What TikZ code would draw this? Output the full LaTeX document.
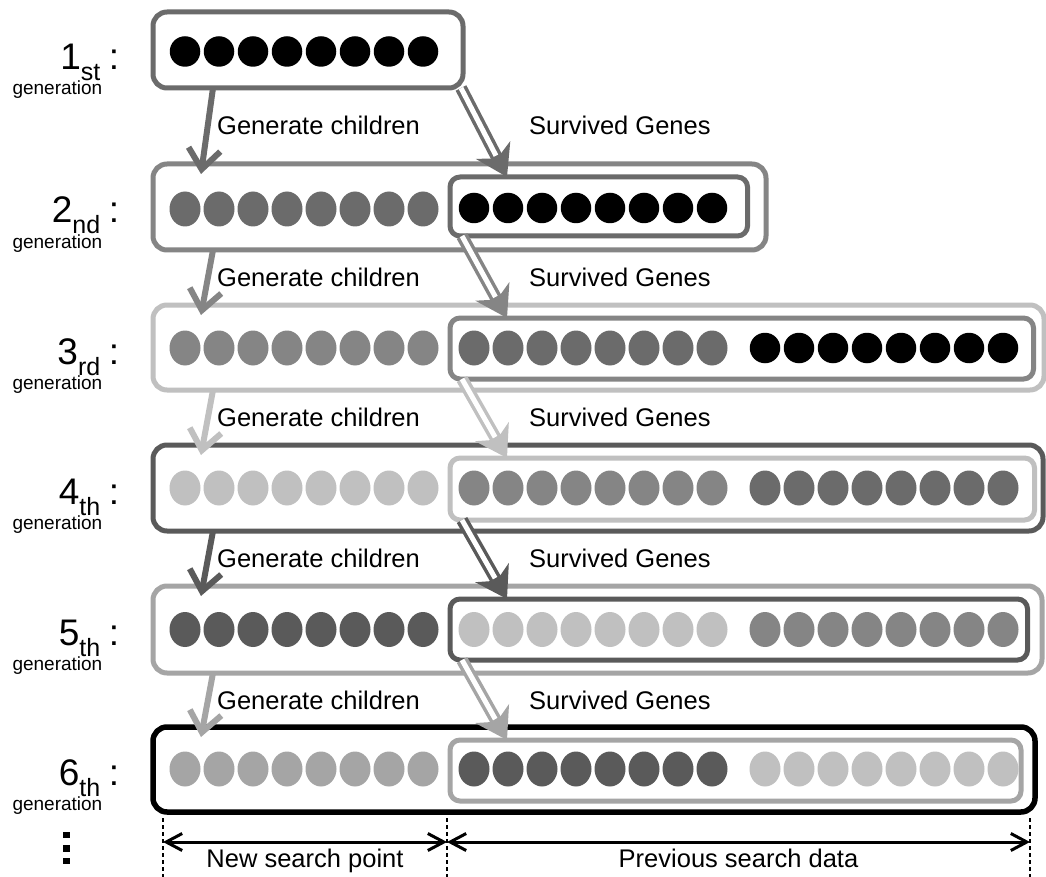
\documentclass[tikz,border=0pt]{standalone}
\usepackage{fontspec}
\setmainfont{Liberation Sans}
\usetikzlibrary{arrows.meta, shapes.geometric, calc}

% one grey per generation; generation k+1 also outlines row k
\definecolor{g1}{HTML}{000000}
\definecolor{g2}{HTML}{6B6B6B}
\definecolor{g3}{HTML}{858585}
\definecolor{g4}{HTML}{C0C0C0}
\definecolor{g5}{HTML}{5A5A5A}
\definecolor{g6}{HTML}{A5A5A5}
\definecolor{g7}{HTML}{000000}

\tikzset{
  outerbox/.style={draw, rounded corners=14pt, line width=5pt, inner sep=0pt, outer sep=0pt, fill=white},
  innerbox/.style={draw, rounded corners=10pt, line width=5pt, inner sep=0pt, outer sep=0pt},
  gene/.style={ellipse, draw=none, inner sep=0pt, outer sep=0pt, minimum width=31pt, minimum height=35pt},
  elite/.style={circle, draw=none, inner sep=0pt, outer sep=0pt, minimum size=30.5pt},
  genarrow/.style={line width=6pt, -{Straight Barb[length=20pt, width=32pt]}},
  survout/.style={line width=12pt, -{Stealth[length=30pt, width=38pt, inset=9pt]}},
  survin/.style={line width=5pt, draw=white, shorten >=24pt},
  steplabel/.style={inner sep=0pt, anchor=base west, font=\fontsize{25.5}{25.5}\selectfont},
  dimlabel/.style={inner sep=0pt, anchor=base, font=\fontsize{25.5}{25.5}\selectfont},
  genword/.style={inner sep=0pt, anchor=base east, font=\fontsize{19}{19}\selectfont},
  gennum/.style={inner sep=0pt, anchor=base east},
  gencolon/.style={inner sep=0pt, anchor=base, font=\fontsize{37}{37}\selectfont},
  dotline/.style={line width=2.5pt, dash pattern=on 3.5pt off 3.5pt},
  dimarrow/.style={line width=3pt, {Straight Barb[length=16pt, width=17pt]}-{Straight Barb[length=16pt, width=17pt]}},
}
\newcommand{\ordnum}[2]{{\fontsize{37}{37}\selectfont #1}{\fontsize{25}{25}\selectfont\raisebox{-11pt}{#2}}}

\begin{document}
\begin{tikzpicture}[x=1pt, y=-1pt]
\fill[white] (0,0) rectangle (1046,877);
\useasboundingbox (0,0) rectangle (1046,877);

% ---------- generation rows ----------
% row 1
\node[outerbox, draw=g2, minimum width=310pt, minimum height=76pt] (o1) at (308,50) {};
\foreach \i in {0,...,7}
  \node[elite, fill=g1] (r1n\i) at ({185+34*\i}, 51.5) {};

% row 2
\node[outerbox, draw=g3, minimum width=613pt, minimum height=86pt] (o2) at (459.5,207) {};
\node[innerbox, draw=g2, minimum width=297.5pt, minimum height=59pt] (i2) at (598.75,206.5) {};
\foreach \i in {0,...,7} {
  \node[gene, fill=g2] (r2n\i) at ({185+34*\i}, 209) {};
  \node[elite, fill=g1] (r2a\i) at ({474+34*\i}, 208) {};
}

% row 3
\node[outerbox, draw=g4, minimum width=891pt, minimum height=85pt] (o3) at (598.5,347.5) {};
\node[innerbox, draw=g3, minimum width=583.5pt, minimum height=61pt] (i3) at (741.75,348.5) {};
\foreach \i in {0,...,7} {
  \node[gene, fill=g3] (r3n\i) at ({185+34*\i}, 348) {};
  \node[gene, fill=g2] (r3a\i) at ({474+34*\i}, 348) {};
  \node[elite, fill=g1] (r3b\i) at ({765+34*\i}, 348) {};
}

% row 4
\node[outerbox, draw=g5, minimum width=890pt, minimum height=86pt] (o4) at (598,488) {};
\node[innerbox, draw=g4, minimum width=584.5pt, minimum height=62pt] (i4) at (742.25,489) {};
\foreach \i in {0,...,7} {
  \node[gene, fill=g4] (r4n\i) at ({185+34*\i}, 488) {};
  \node[gene, fill=g3] (r4a\i) at ({474+34*\i}, 488) {};
  \node[gene, fill=g2] (r4b\i) at ({765+34*\i}, 488) {};
}

% row 5
\node[outerbox, draw=g6, minimum width=889pt, minimum height=87pt] (o5) at (597.5,629.5) {};
\node[innerbox, draw=g5, minimum width=577.5pt, minimum height=61pt] (i5) at (738.75,629.5) {};
\foreach \i in {0,...,7} {
  \node[gene, fill=g5] (r5n\i) at ({185+34*\i}, 629.5) {};
  \node[gene, fill=g4] (r5a\i) at ({474+34*\i}, 629.5) {};
  \node[gene, fill=g3] (r5b\i) at ({765+34*\i}, 629.5) {};
}

% row 6
\node[outerbox, draw=g7, line width=5.5pt, minimum width=882pt, minimum height=85pt] (o6) at (594,769.5) {};
\node[innerbox, draw=g6, minimum width=571pt, minimum height=61pt] (i6) at (735.5,770.5) {};
\foreach \i in {0,...,7} {
  \node[gene, fill=g6] (r6n\i) at ({185+34*\i}, 769) {};
  \node[gene, fill=g5] (r6a\i) at ({474+34*\i}, 769) {};
  \node[gene, fill=g4] (r6b\i) at ({765+34*\i}, 769) {};
}

% ---------- generation labels ----------
\foreach \k/\num/\suf/\b in {1/1/st/70, 2/2/nd/223, 3/3/rd/364, 4/4/th/504, 5/5/th/645, 6/6/th/785} {
  \node[gennum] (num\k) at (100.5,\b) {\ordnum{\num}{\suf}};
  \node[gencolon] (col\k) at (114,\b) {:};
  \node[genword] (gw\k) at (102.5,\b+25) {generation};
}
% continuation marks
\foreach \j/\y in {1/835, 2/848.3, 3/861}
  \fill (63.2,\y-3.3) rectangle (69.8,\y+3.3);

% ---------- transitions ----------
\foreach \k/\kk/\col/\b in {1/2/g2/135, 2/3/g3/286.5, 3/4/g4/426.5, 4/5/g5/567.5, 5/6/g6/709} {
  \draw[genarrow, draw=\col] ($(o\k.south west)+(60pt,0)$) -- ($(o\kk.north west)+(48pt,-10pt)$);
  \node[steplabel] (gc\k) at (217,\b) {Generate children};
  \node[steplabel] (sg\k) at (529,\b) {Survived Genes};
}
% survived genes: hollow double arrows
\coordinate (s1) at ($(o1.south east)+(-2pt,0)$);
\coordinate (t1) at ($(i2.north west)+(57pt,0)$);
\draw[survout, draw=g2] (s1) -- (t1);
\draw[survin] (s1) -- (t1);
\foreach \k/\kk/\col in {2/3/g3, 3/4/g4, 4/5/g5, 5/6/g6} {
  \coordinate (s\k) at ($(i\k.south west)+(12pt,0)$);
  \coordinate (t\k) at ($(i\kk.north west)+(57pt,0)$);
  \draw[survout, draw=\col] (s\k) -- (t\k);
  \draw[survin] (s\k) -- (t\k);
}

% ---------- spans at the bottom ----------
\foreach \n/\x in {a/163, b/447, c/1030} {
  \coordinate (v\n t) at (\x,818);
  \coordinate (v\n b) at (\x,877);
  \coordinate (v\n m) at (\x,842);
  \draw[dotline] (v\n t) -- (v\n b);
}
\draw[dimarrow] (vam) -- (vbm);
\draw[dimarrow] (vbm) -- (vcm);
\node[dimlabel] (newpt) at (305,867) {New search point};
\node[dimlabel] (prevd) at (738.5,867) {Previous search data};
\end{tikzpicture}
\end{document}
